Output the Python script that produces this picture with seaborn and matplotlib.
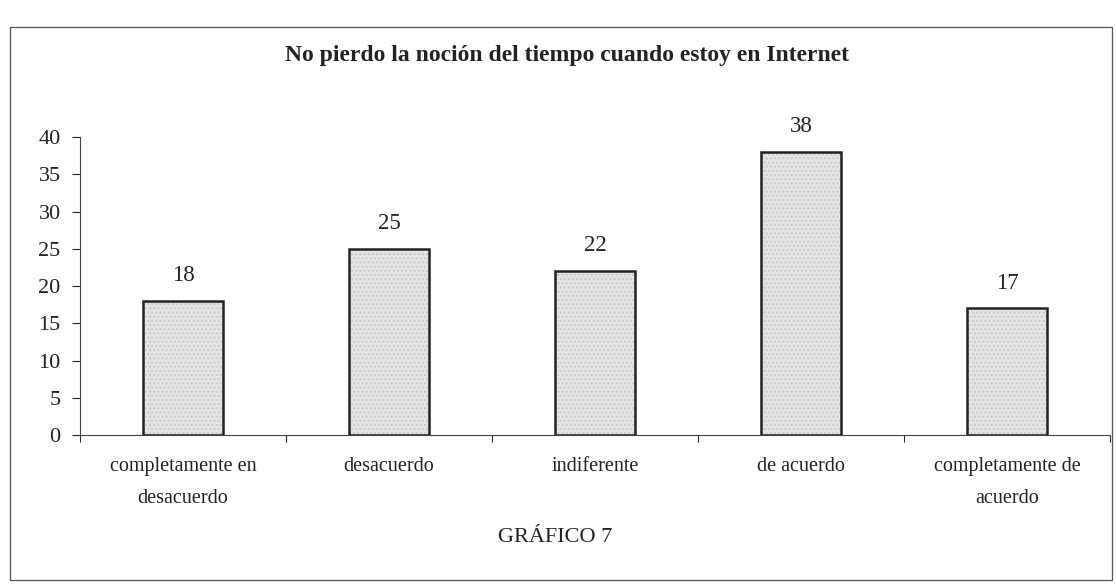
import numpy as np
import pandas as pd
import seaborn as sns
import matplotlib
matplotlib.use('Agg')
import matplotlib.pyplot as plt
from matplotlib.patches import Rectangle

categories = [
    "completamente en\ndesacuerdo",
    "desacuerdo",
    "indiferente",
    "de acuerdo",
    "completamente de\nacuerdo",
]
values = [18, 25, 22, 38, 17]
y_ticks = [0, 5, 10, 15, 20, 25, 30, 35, 40]

title = "No pierdo la noción del tiempo cuando estoy en Internet"
caption = "GRÁFICO 7"

sns.set_theme(style="white")
plt.rcParams['font.family'] = ['Liberation Serif', 'DejaVu Serif']

df = pd.DataFrame({"categoria": categories, "valor": values})

fig = plt.figure(figsize=(11.16, 5.84), dpi=100)
ax = fig.add_axes([0.0717, 0.255, 0.9229, 0.51])

sns.barplot(
    data=df, x="categoria", y="valor", ax=ax,
    color="#e4e4e4", width=0.39, edgecolor="#222222", linewidth=1.8,
    saturation=1,
)
for p in ax.patches:
    p.set_hatch("....")
    p._hatch_color = matplotlib.colors.to_rgba("#c8c8c8")

for i, v in enumerate(values):
    ax.text(i, v + 2.0, str(v), ha="center", va="bottom", fontsize=16.5, color="#222222")

ax.set_xlim(-0.5, 4.5)
ax.set_ylim(0, 40)
ax.set_yticks(y_ticks)
ax.set_xticks(range(len(categories)))
ax.set_xticklabels(categories, fontsize=14.5, color="#222222", linespacing=1.9)
ax.set_xticks(np.arange(-0.5, 5, 1), minor=True)
ax.tick_params(axis="y", which="major", direction="out", left=True, length=6,
               width=0.8, labelsize=16, labelcolor="#222222", pad=8)
ax.tick_params(axis="x", which="major", bottom=False, pad=10)
ax.tick_params(axis="x", which="minor", bottom=True, direction="out", length=5, width=0.8)
ax.set_xlabel("")
ax.set_ylabel("")
for side in ["top", "right"]:
    ax.spines[side].set_visible(False)
for side in ["left", "bottom"]:
    ax.spines[side].set_color("#444444")
    ax.spines[side].set_linewidth(0.8)

fig.text(0.508, 0.905, title, ha="center", va="center", fontsize=17,
         fontweight="bold", color="#222222")
fig.text(0.497, 0.08, caption, ha="center", va="center", fontsize=16, color="#222222")

fig.patches.append(Rectangle((10 / 1116, 4 / 584), 1102 / 1116, 553 / 584,
                             transform=fig.transFigure, fill=False,
                             edgecolor="#555555", linewidth=0.9))

plt.savefig("out.png", dpi=100)
